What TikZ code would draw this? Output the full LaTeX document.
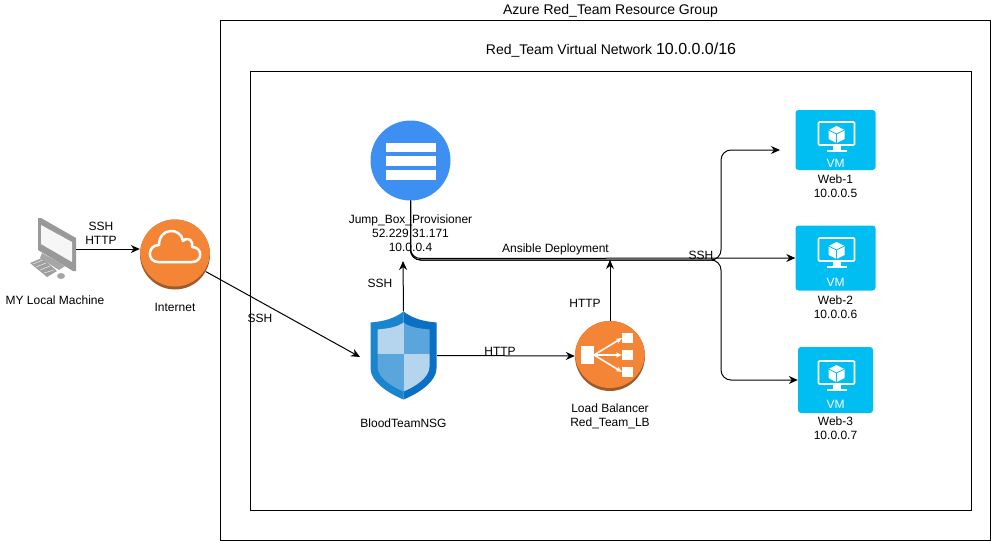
\documentclass[tikz,border=0pt]{standalone}
\usepackage{fontspec}
\setmainfont{Liberation Sans}
\usetikzlibrary{arrows.meta}

\definecolor{awsorange}{HTML}{F58536}
\definecolor{awsedge}{HTML}{9D5B2A}
\definecolor{jumpblue}{HTML}{3D8FF2}
\definecolor{vmblue}{HTML}{00BEF2}
\definecolor{shieldleft}{HTML}{1A84CE}
\definecolor{shieldright}{HTML}{0A70C4}
\definecolor{shieldlight}{HTML}{B5D5EE}
\definecolor{shieldmid}{HTML}{5AA5DB}

\tikzset{
  lbl/.style={align=center,inner sep=0,font=\fontsize{12}{14}\selectfont},
  biglbl/.style={inner sep=0,font=\fontsize{14}{16}\selectfont},
  vmtag/.style={inner sep=0,text=white,font=\fontsize{12}{14}\selectfont},
  boxline/.style={draw,line width=1pt},
  wire/.style={draw,line width=1pt,-{Stealth[length=9pt,width=8pt]}},
  buswire/.style={wire,rounded corners=10pt},
  awsdisc/.style={circle,minimum size=70pt,inner sep=0,fill=awsedge,
    path picture={\fill[awsorange] ([yshift=3pt]path picture bounding box.center) circle (35pt);}},
  vmbox/.style={rectangle,rounded corners=3pt,fill=vmblue,inner sep=0},
  blank/.style={rectangle,inner sep=0},
  barsicon/.pic={
    \fill[white] (-25,-18) rectangle (25,-9);
    \fill[white] (-25,-5) rectangle (25,5);
    \fill[white] (-25,9) rectangle (25,19);
  },
  cloudicon/.pic={
    \draw[white,line width=2.5pt,line join=round] (-17,11) .. controls (-28,11) and (-28,-6) .. (-16,-6)
      .. controls (-16,-24) and (6,-24) .. (8,-10)
      .. controls (13,-15) and (19,-10) .. (17,-4)
      .. controls (28,-4) and (28,11) .. (17,11) -- cycle;
  },
  lbicon/.pic={
    \fill[white] (-29,-10) rectangle (-16,8);
    \fill[white] (12,-23) rectangle (23,-13);
    \fill[white] (12,-6) rectangle (23,4);
    \fill[white] (12,11) rectangle (23,21);
    \draw[white,line width=1.6pt,-{Stealth[length=6pt,width=5pt]}] (-16,-1) -- (12,-18);
    \draw[white,line width=1.6pt,-{Stealth[length=6pt,width=5pt]}] (-16,-1) -- (12,-1);
    \draw[white,line width=1.6pt,-{Stealth[length=6pt,width=5pt]}] (-16,-1) -- (12,16);
  },
  vmicon/.pic={
    \draw[white,line width=1.6pt,rounded corners=1pt] (-17,-18) rectangle (19,5);
    \fill[white] (-3,5) rectangle (5,10);
    \fill[white] (-9,10) -- (11,10) -- (11,12) -- (-9,12) -- cycle;
    \fill[white] (1,-14) -- (9,-10) -- (9,-1) -- (1,3) -- (-7,-1) -- (-7,-10) -- cycle;
    \draw[vmblue,line width=.7pt] (-7,-10) -- (1,-6) -- (9,-10) (1,-6) -- (1,3);
  },
  hosticon/.pic={
    \fill[gray!80] (-15,-31) -- (-12,-31) -- (23,-11) -- (23,22) -- (20,22) -- (-15,1) -- cycle;
    \fill[white!93!gray] (-12,-24) -- (19,-7) -- (19,13) -- (-12,-5) -- cycle;
    \fill[gray!70] (-11,4) -- (12,17) -- (6,21) -- (-13,9) -- cycle;
    \fill[gray!75] (-23,14) -- (-11,9) -- (4,22) -- (-6,28) -- cycle;
    \draw[white!85!gray,line width=.5pt] (-20,15) -- (-10,11) (-17,18) -- (-7,14) (-13,21) -- (-3,17) (-9,24) -- (1,21);
    \fill[gray!70] (8,27) ellipse (4pt and 3pt);
  },
  shieldicon/.pic={
    \fill[shieldleft] (0,-44) .. controls (-9,-37) and (-20,-34) .. (-33,-33) -- (-33,13)
      .. controls (-33,26) and (-15,38) .. (0,44) -- cycle;
    \fill[shieldright] (0,-44) .. controls (9,-37) and (20,-34) .. (33,-33) -- (33,13)
      .. controls (33,26) and (15,38) .. (0,44) -- cycle;
    \begin{scope}
      \clip (0,-33) .. controls (-7,-28) and (-16,-27) .. (-26,-26) -- (-26,11)
        .. controls (-26,22) and (-12,31) .. (0,36)
        .. controls (12,31) and (26,22) .. (26,11) -- (26,-26)
        .. controls (16,-27) and (7,-28) .. (0,-33) -- cycle;
      \fill[shieldlight] (-33,-44) rectangle (0,-2);
      \fill[shieldmid] (0,-44) rectangle (33,-2);
      \fill[shieldmid] (-33,-2) rectangle (0,44);
      \fill[shieldlight] (0,-2) rectangle (33,44);
    \end{scope}
  }
}

\begin{document}
\begin{tikzpicture}[x=1pt,y=-1pt]
  \useasboundingbox (0,0) rectangle (991,541);

  \node[boxline,blank,minimum width=770pt,minimum height=520pt] (group) at (605,280.5) {};
  \node[boxline,blank,minimum width=721pt,minimum height=439pt] (vnet) at (610.5,290.5) {};

  \node[biglbl] (grouptext) at (610.5,11) {Azure Red\_Team Resource Group};
  \node[biglbl] (vnettext) at (611,50) {Red\_Team Virtual Network {\fontsize{16}{18}\selectfont 10.0.0.0/16}};

  \node[blank,minimum width=46pt,minimum height=62pt] (host) at (53,249) {};
  \pic at (host) {hosticon};
  \node[awsdisc] (internet) at (175,254.5) {};
  \pic at (175,251) {cloudicon};
  \node[circle,fill=jumpblue,minimum size=80pt,inner sep=0] (jump) at (410.5,160.5) {};
  \pic at (jump) {barsicon};
  \node[blank,minimum width=67pt,minimum height=88pt] (nsg) at (403.5,355.5) {};
  \pic at (nsg) {shieldicon};
  \node[awsdisc] (lb) at (610,356) {};
  \pic at (lb) {lbicon};

  \node[vmbox,minimum width=80pt,minimum height=60pt] (web1) at (835.5,140) {};
  \pic at (web1) {vmicon};
  \node[vmtag] (tag1) at (835.5,163) {VM};
  \node[vmbox,minimum width=80pt,minimum height=65pt] (web2) at (835.5,258) {};
  \pic at (835.5,256) {vmicon};
  \node[vmtag] (tag2) at (835.5,282) {VM};
  \node[vmbox,minimum width=75pt,minimum height=66pt] (web3) at (835.5,380) {};
  \pic at (835.5,379) {vmicon};
  \node[vmtag] (tag3) at (835.5,404) {VM};

  \node[lbl] (hosttext) at (55,300) {MY Local Machine};
  \node[lbl] (internettext) at (175,307) {Internet};
  \node[lbl] (jumptext) at (410.5,233) {Jump\_Box\_Provisioner\\52.229.31.171\\10.0.0.4};
  \node[lbl] (nsgtext) at (403.5,423) {BloodTeamNSG};
  \node[lbl] (lbtext) at (610,416) {Load Balancer\\Red\_Team\_LB};
  \node[lbl] (web1text) at (835.5,186) {Web-1\\10.0.0.5};
  \node[lbl] (web2text) at (835.5,307) {Web-2\\10.0.0.6};
  \node[lbl] (web3text) at (835.5,428) {Web-3\\10.0.0.7};

  \coordinate (nsgin) at (360,357);
  \coordinate (jumpin) at (403,261);
  \coordinate (lbout) at (610,260);
  \coordinate (web1in) at (780,150);
  \coordinate (busleft) at (410.5,260);

  \draw[wire] (host.east) -- (host.east -| internet.west);
  \draw[wire] (internet.-29) -- (nsgin);
  \draw[wire] (nsg.north) -- (jumpin);
  \draw[wire] (nsg.east) -- (lb.west);
  \draw[wire] (lb.north) -- (lbout);

  \draw[buswire] (jump.south) -- (busleft) -- (721,260) -- (721,150) -- (web1in);
  \draw[buswire] (jump.south) -- (410.5,258.5) -- (web2.west);
  \draw[buswire] (jump.south) -- (busleft) -- (721,260) -- (721,380) -- (web3.west);

  \node[lbl] (sshhttp) at (101,233.5) {SSH\\HTTP};
  \node[lbl] (sshwan) at (260,318) {SSH};
  \node[lbl] (sshjump) at (380,283) {SSH};
  \node[lbl] (httpnsg) at (500,351) {HTTP};
  \node[lbl] (httplb) at (585,303) {HTTP};
  \node[lbl] (ansible) at (555.5,249) {Ansible Deployment};
  \node[lbl] (sshweb) at (701,255) {SSH};
\end{tikzpicture}
\end{document}
